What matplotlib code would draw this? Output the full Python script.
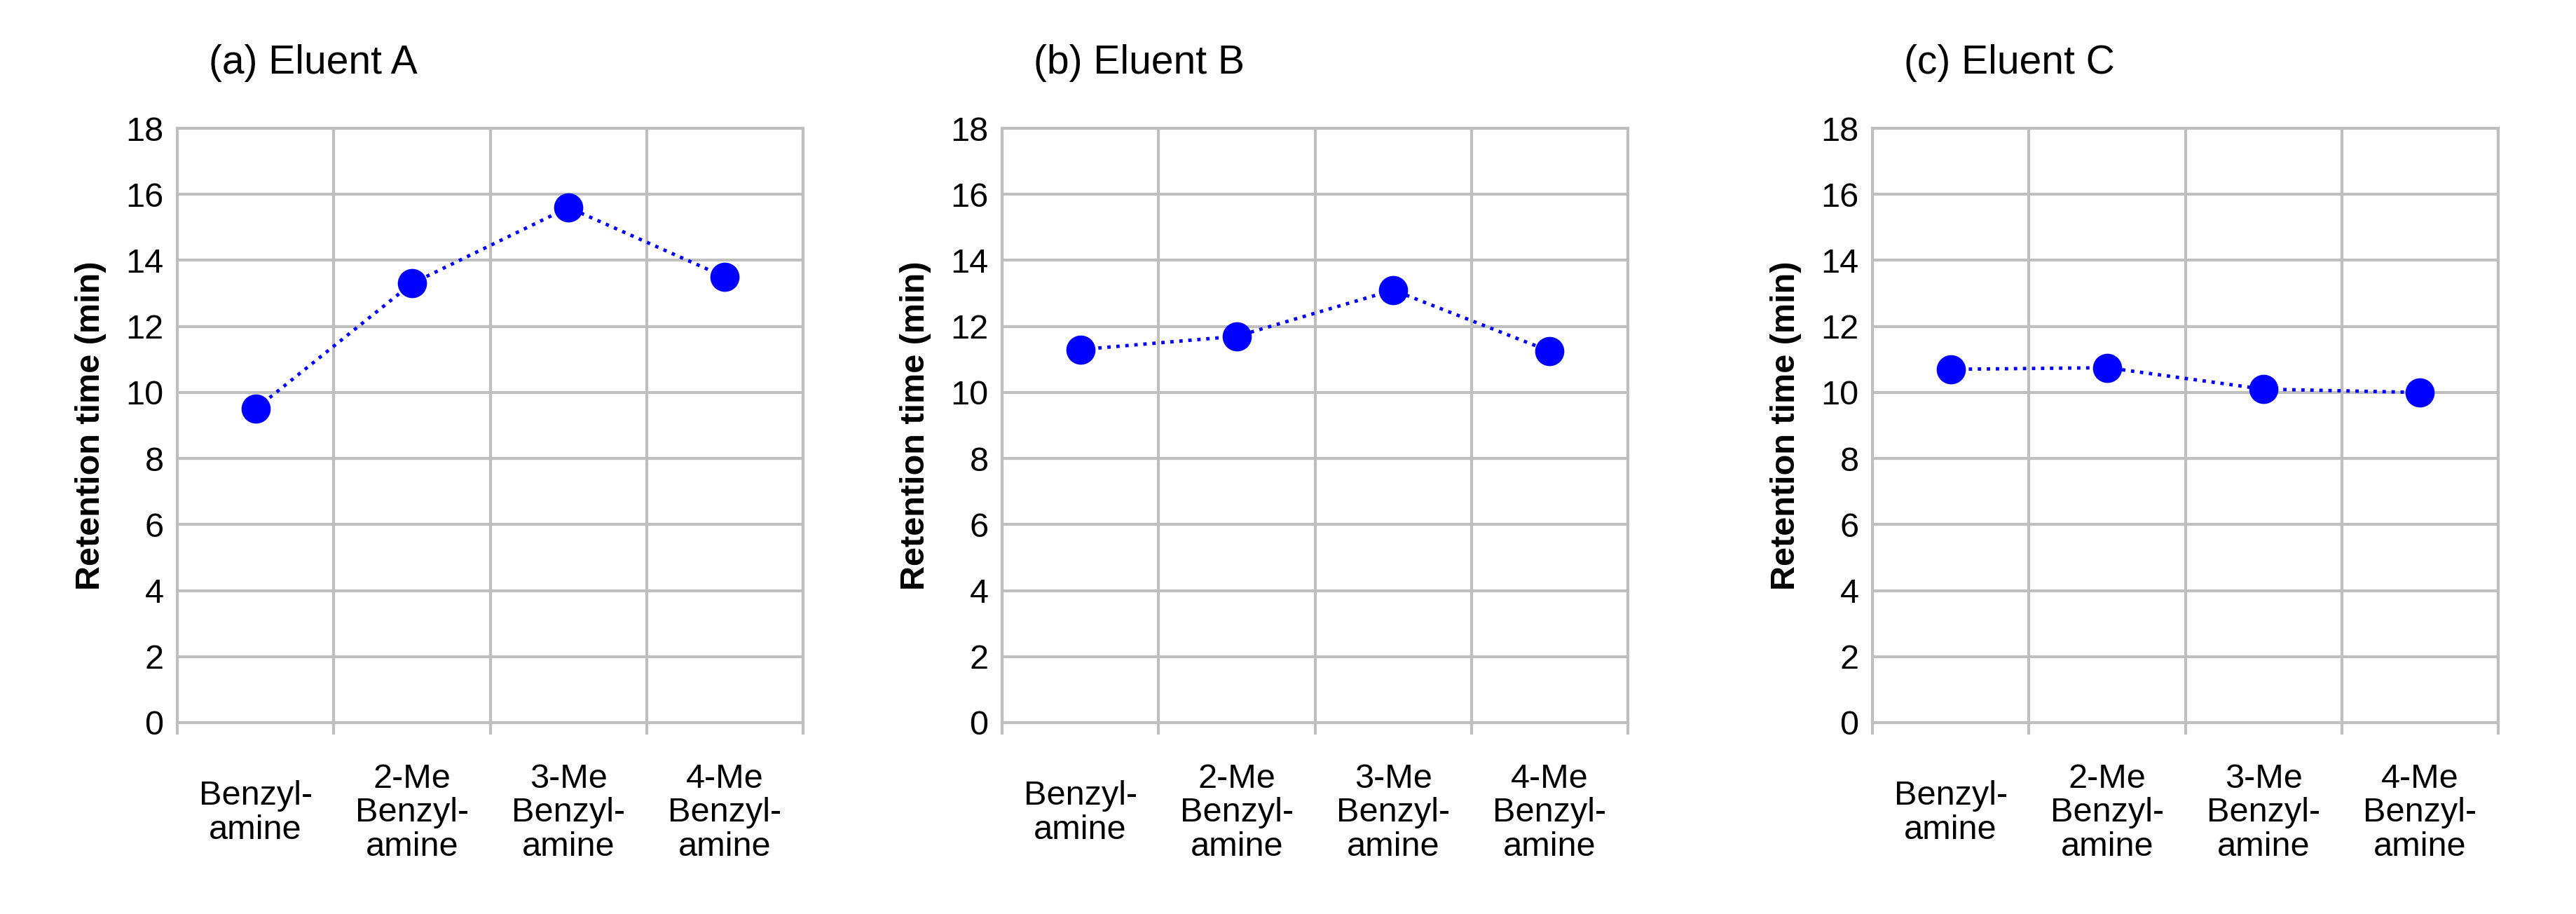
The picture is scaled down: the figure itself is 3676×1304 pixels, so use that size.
import matplotlib
matplotlib.use("Agg")
import matplotlib.pyplot as plt
import numpy as np
from matplotlib.transforms import blended_transform_factory

categories = ["Benzyl-\namine", "2-Me\nBenzyl-\namine", "3-Me\nBenzyl-\namine", "4-Me\nBenzyl-\namine"]
titles = ["(a) Eluent A", "(b) Eluent B", "(c) Eluent C"]
eluent_a = [9.5, 13.3, 15.6, 13.5]
eluent_b = [11.3, 11.7, 13.1, 11.25]
eluent_c = [10.7, 10.75, 10.1, 10.0]
series = [eluent_a, eluent_b, eluent_c]
yticks = list(range(0, 19, 2))

plt.rcParams['font.family'] = ['Liberation Sans', 'DejaVu Sans']
fig = plt.figure(figsize=(36.76, 13.04), dpi=100)
lefts = [253, 1430, 2672]
width = 893
top, bottom = 183, 1031
grid_c = '#bfbfbf'
for i in range(3):
    ax = fig.add_axes([lefts[i] / 3676, 1 - bottom / 1304, width / 3676, (bottom - top) / 1304])
    x = np.arange(len(categories))
    ax.plot(x, series[i], linestyle=':', color='#0000ff', lw=3.5, marker='o',
            markersize=29, markerfacecolor='#0000ff', markeredgecolor='#0000ff')
    ax.set_xlim(-0.5, 3.5)
    ax.set_ylim(0, 18)
    ax.set_yticks(yticks)
    ax.set_yticklabels([str(v) for v in yticks], fontsize=35)
    ax.set_xticks(np.arange(-0.5, 3.6, 1))
    ax.set_xticklabels([])
    ax.tick_params(axis='x', length=12, width=3, color=grid_c)
    ax.tick_params(axis='y', length=0, pad=14)
    ax.grid(True, color=grid_c, lw=3)
    ax.set_axisbelow(True)
    for s in ax.spines.values():
        s.set_color(grid_c)
        s.set_linewidth(3)
    tr = blended_transform_factory(ax.transData, ax.transAxes)
    for xi, c in zip(x, categories):
        ax.text(xi, -0.152, c, transform=tr, ha='center', va='center',
                fontsize=35, linespacing=1.1)
    ax.set_ylabel("Retention time (min)", fontsize=35, fontweight='bold', labelpad=20)
    ax.text(0.05, 1.11, titles[i], transform=ax.transAxes, ha='left', va='center', fontsize=41)

fig.savefig("out.png", dpi=100, facecolor='white')
